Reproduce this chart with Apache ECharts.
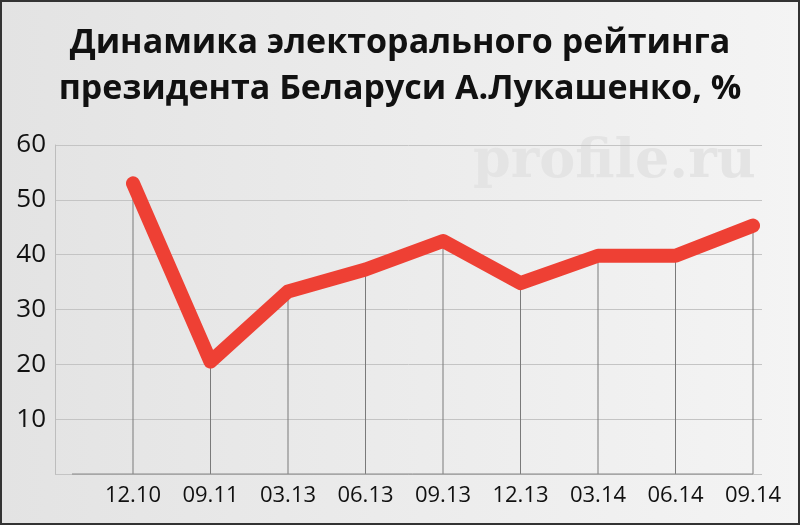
<!DOCTYPE html>
<html><head><meta charset="utf-8">
<script src="https://cdn.jsdelivr.net/npm/echarts@6/dist/echarts.min.js"></script>
<style>
html,body{margin:0;padding:0;}
#c{width:800px;height:525px;background:linear-gradient(to right,#e3e3e3,#f4f4f4);}
</style></head>
<body><div id="c"></div>
<script>
const titleLines = ['Динамика электорального рейтинга', 'президента Беларуси А.Лукашенко, %'];
const categories = ['12.10','09.11','03.13','06.13','09.13','12.13','03.14','06.14','09.14'];
const rating = [53, 20.5, 33.3, 37.3, 42.5, 34.8, 39.8, 39.8, 45.3];
const yTicks = {min: 0, max: 60, interval: 10};
const watermark = 'profile.ru';

const chart = echarts.init(document.getElementById('c'), null, {renderer: 'canvas'});
chart.setOption({
  animation: false,
  backgroundColor: 'transparent',
  title: {
    text: titleLines.join('\n'),
    left: 'center', top: 15,
    textStyle: {fontFamily: 'Open Sans', fontWeight: 'bold', fontSize: 34, lineHeight: 46, color: '#111'}
  },
  graphic: [
    {type: 'text', left: 473, top: 136, z: 0,
     style: {text: watermark, font: 'bold 54px "DejaVu Serif"', fill: '#e4e4e4'}},
    {type: 'rect', shape: {x: 1, y: 1, width: 798, height: 523},
     style: {fill: 'none', stroke: '#333', lineWidth: 2}, z: 100},
    {type: 'line', shape: {x1: 72, y1: 474, x2: 753, y2: 474},
     style: {stroke: '#888', lineWidth: 1}, z: 5}
  ],
  grid: [
    {left: 55, right: 38, top: 145, bottom: 51},
    {left: 133, right: 47, top: 145, bottom: 51}
  ],
  xAxis: [
    {gridIndex: 0, type: 'value', show: false, min: 0, max: 1},
    {gridIndex: 1, type: 'category', data: categories, boundaryGap: false,
     axisLine: {show: false}, axisTick: {show: false},
     axisLabel: {fontFamily: 'Open Sans', fontSize: 22, color: '#111', margin: 11}}
  ],
  yAxis: [
    {gridIndex: 0, type: 'value', min: yTicks.min, max: yTicks.max, interval: yTicks.interval,
     axisLine: {show: true, lineStyle: {color: '#bdbdbd', width: 1}},
     axisTick: {show: false},
     axisLabel: {showMinLabel: false, fontFamily: 'Open Sans', fontSize: 26, color: '#111', margin: 9},
     splitLine: {show: true, showMinLine: true, lineStyle: {color: '#c4c4c4', width: 1}}},
    {gridIndex: 1, type: 'value', min: yTicks.min, max: yTicks.max, interval: yTicks.interval, show: false}
  ],
  series: [
    {type: 'bar', xAxisIndex: 1, yAxisIndex: 1, data: rating, barWidth: 1,
     itemStyle: {color: '#7a7a7a'}, z: 2, silent: true},
    {type: 'line', xAxisIndex: 1, yAxisIndex: 1, data: rating, symbol: 'none',
     lineStyle: {color: '#ee4034', width: 14, cap: 'round', join: 'round'}, z: 10}
  ]
});
</script></body></html>
